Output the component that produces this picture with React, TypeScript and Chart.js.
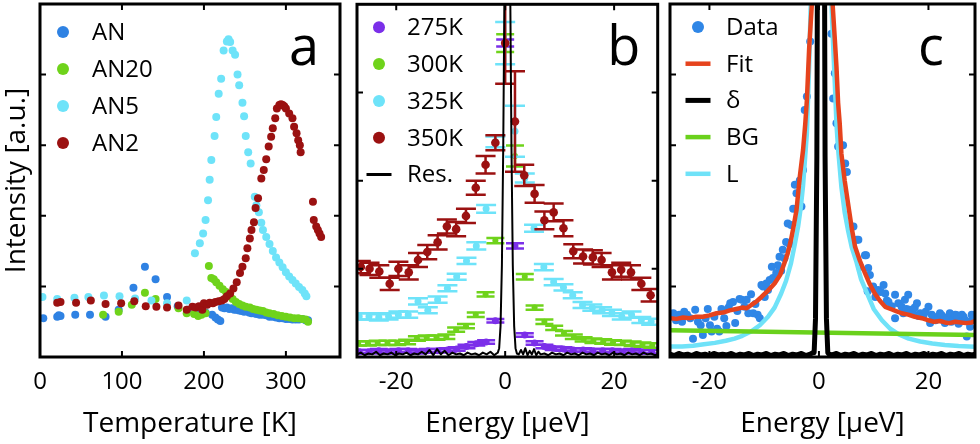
import React, { useEffect, useRef } from 'react';
import { Chart, registerables } from 'chart.js';

Chart.register(...registerables);

const FONT = '"Open Sans", "Noto Sans", "DejaVu Sans", sans-serif';

type P = [number, number];

// ---------- Panel a : intensity vs temperature ----------
const tempTicks = [0, 100, 200, 300];
const yTicksA = [0, 1, 2, 3, 4, 5];
const namesA = ['AN', 'AN20', 'AN5', 'AN2'];

const AN: P[] = [[4,0.55],[21,0.57],[23,0.59],[25,0.58],[43,0.6],[61,0.6],[80,0.57],[96,0.67],[114,0.98],[128,1.28],[141,1.1],[155,0.85],[168,0.72],[180,0.67],[192,0.64],[202,0.63],[210,0.6],[214,0.56],[217,0.53],[220,0.51],[222,0.7],[225,0.69],[228,0.7],[231,0.68],[234,0.69],[237,0.67],[240,0.67],[243,0.66],[246,0.65],[249,0.64],[252,0.65],[255,0.63],[258,0.62],[261,0.62],[264,0.61],[268,0.6],[272,0.6],[276,0.59],[280,0.57],[284,0.57],[288,0.56],[292,0.55],[296,0.55],[300,0.54],[304,0.54],[308,0.53],[312,0.53],[316,0.53],[320,0.54],[324,0.52],[327,0.52]];
const AN20: P[] = [[77,0.6],[96,0.64],[112,0.74],[128,0.91],[141,0.82],[169,0.69],[179,0.62],[188,0.61],[193,0.58],[197,0.6],[202,0.62],[206,1.29],[209,1.12],[212,1.1],[215,1.06],[219,1.01],[223,0.96],[227,0.92],[231,0.86],[235,0.82],[239,0.78],[243,0.75],[247,0.73],[251,0.71],[256,0.7],[260,0.68],[264,0.67],[268,0.66],[272,0.65],[276,0.63],[280,0.62],[285,0.61],[290,0.59],[295,0.58],[300,0.57],[305,0.56],[310,0.55],[315,0.55],[320,0.54],[324,0.53],[327,0.5]];
const AN5: P[] = [[3,0.85],[21,0.82],[42,0.84],[59,0.85],[78,0.87],[97,0.86],[116,0.83],[136,0.8],[155,0.76],[179,0.8],[189,1.47],[195,1.61],[199,1.75],[202,1.94],[205,2.22],[207,2.51],[209,2.79],[213,3.13],[215,3.4],[218,3.73],[221,3.94],[224,4.34],[228,4.47],[230,4.5],[232,4.46],[235,4.34],[238,4.28],[241,4.0],[243,3.85],[247,3.6],[249,3.41],[251,3.13],[254,2.9],[257,2.74],[262,2.27],[264,2.15],[267,2.05],[270,1.9],[272,1.8],[276,1.7],[280,1.6],[284,1.5],[288,1.41],[292,1.34],[296,1.27],[300,1.2],[304,1.14],[308,1.09],[312,1.04],[316,0.99],[320,0.95],[323,0.9],[325,0.86]];
const AN2: P[] = [[21,0.77],[25,0.78],[44,0.77],[62,0.8],[80,0.75],[99,0.76],[115,0.79],[129,0.72],[142,0.71],[155,0.7],[169,0.73],[179,0.67],[186,0.71],[190,0.7],[194,0.72],[198,0.67],[200,0.76],[204,0.74],[207,0.77],[211,0.76],[214,0.78],[218,0.79],[222,0.8],[225,0.82],[228,0.86],[232,0.9],[236,0.97],[240,1.06],[244,1.19],[247,1.28],[251,1.4],[253,1.54],[256,1.68],[258,1.8],[261,1.91],[263,2.11],[266,2.25],[270,2.53],[273,2.65],[276,2.8],[279,2.98],[282,3.12],[284,3.24],[287,3.38],[289,3.52],[292,3.57],[294,3.58],[296,3.57],[298,3.55],[300,3.52],[304,3.45],[308,3.38],[310,3.26],[313,3.17],[315,3.07],[317,3.0],[318,2.9],[333,2.2],[334,1.94],[337,1.85],[339,1.8],[341,1.75],[343,1.7]];

// ---------- Panel b : spectra at several temperatures ----------
const energyTicks = [-20, 0, 20];
const yTicksB = [0, 1, 2, 3, 4];
const namesB = ['275K', '300K', '325K', '350K', 'Res.'];

const p275: P[] = [[-26.8,0.06],[-25,0.06],[-23.2,0.07],[-21.4,0.06],[-19.6,0.07],[-17.8,0.07],[-16,0.06],[-14.2,0.07],[-12.4,0.07],[-10.6,0.08],[-8.9,0.09],[-7.1,0.12],[-5.3,0.15],[-3.5,0.17],[-1.8,0.41],[0,3.56],[1.8,1.26],[3.6,0.25],[5.4,0.16],[7.2,0.12],[8.9,0.1],[10.7,0.09],[12.5,0.08],[14.3,0.08],[16.1,0.07],[17.9,0.07],[19.7,0.07],[21.5,0.06],[23.3,0.07],[25.1,0.06],[26.9,0.06]];
const e275 = [0.02,0.02,0.02,0.02,0.02,0.02,0.02,0.02,0.02,0.02,0.02,0.02,0.02,0.02,0.02,0.04,0.03,0.02,0.02,0.02,0.02,0.02,0.02,0.02,0.02,0.02,0.02,0.02,0.02,0.02,0.02];
const p300: P[] = [[-27,0.155],[-25.2,0.155],[-23.4,0.16],[-21.6,0.16],[-19.8,0.16],[-18,0.17],[-16.2,0.21],[-14.4,0.22],[-12.6,0.22],[-10.8,0.23],[-9,0.31],[-7.2,0.35],[-5.4,0.48],[-3.6,0.71],[-1.8,1.32],[0,3.56],[1.8,2.28],[3.6,0.91],[5.4,0.56],[7.2,0.4],[9,0.33],[10.8,0.27],[12.6,0.23],[14.4,0.2],[16.2,0.185],[18,0.175],[19.8,0.165],[21.6,0.16],[23.4,0.15],[25.2,0.14],[27,0.13]];
const e300 = [0.025,0.025,0.025,0.025,0.025,0.025,0.025,0.025,0.025,0.025,0.025,0.025,0.025,0.025,0.03,0.1,0.12,0.03,0.025,0.025,0.025,0.025,0.025,0.025,0.025,0.025,0.025,0.025,0.025,0.025,0.025];
const p325: P[] = [[-26.8,0.46],[-25,0.46],[-23.2,0.45],[-21.4,0.46],[-19.6,0.48],[-17.8,0.48],[-16,0.63],[-14.2,0.53],[-12.4,0.65],[-10.6,0.78],[-8.9,0.91],[-7.1,1.09],[-5.3,1.26],[-3.5,1.68],[-1.8,2.44],[0,3.56],[1.8,2.56],[3.6,2.03],[5.3,1.46],[7.1,1.02],[8.9,0.85],[10.7,0.79],[12.4,0.7],[14.2,0.59],[16,0.56],[17.8,0.53],[19.6,0.5],[21.4,0.46],[23.2,0.48],[25,0.42],[26.8,0.4]];
const e325 = [0.035,0.035,0.035,0.035,0.035,0.035,0.035,0.035,0.035,0.035,0.035,0.035,0.04,0.045,0.06,0.24,0.29,0.05,0.04,0.035,0.035,0.035,0.035,0.035,0.035,0.035,0.035,0.035,0.035,0.035,0.035];
const p350: P[] = [[-26.5,1.02],[-24.9,1.0],[-23.1,0.97],[-21.2,0.83],[-19.6,1.0],[-17.7,0.96],[-16,1.1],[-14.3,1.19],[-12.4,1.3],[-10.7,1.48],[-9,1.45],[-7.2,1.6],[-5.4,1.92],[-3.6,2.18],[-1.8,2.43],[0,3.56],[1.8,2.67],[3.5,2.06],[5.4,1.85],[7.2,1.55],[8.9,1.64],[10.7,1.46],[12.5,1.2],[14.3,1.14],[16.1,1.13],[17.7,1.1],[19.6,0.96],[21.3,0.99],[23.1,0.96],[25,0.83],[26.7,0.7]];
const e350 = [0.07,0.07,0.07,0.07,0.08,0.08,0.08,0.08,0.08,0.08,0.08,0.08,0.08,0.1,0.085,0.46,0.57,0.12,0.1,0.1,0.1,0.09,0.08,0.08,0.08,0.08,0.08,0.08,0.08,0.07,0.07];
const resB: P[] = [[-27.2,0.03],[-26.5,0.05],[-25.8,0.02],[-25.1,0.04],[-24.4,0.03],[-23.7,0.06],[-23,0.02],[-22.3,0.04],[-21.6,0.03],[-20.9,0.05],[-20.2,0.02],[-19.5,0.04],[-18.8,0.03],[-18.1,0.05],[-17.4,0.02],[-16.7,0.04],[-16,0.03],[-15.3,0.06],[-14.6,0.03],[-13.9,0.08],[-13.2,0.02],[-12.5,0.09],[-11.8,0.03],[-11.1,0.07],[-10.4,0.02],[-9.7,0.05],[-9,0.03],[-8.3,0.04],[-7.6,0.02],[-6.9,0.05],[-6.2,0.03],[-5.5,0.04],[-4.8,0.02],[-4.1,0.05],[-3.4,0.03],[-2.7,0.06],[-2,0.02],[-1.6,0.04],[-1.35,0.05],[-1.1,0.1],[-0.85,0.35],[-0.6,1.04],[-0.35,2.41],[-0.1,4.39],[0.15,6.3],[0.4,7.1],[0.65,6.3],[0.9,4.39],[1.15,2.41],[1.4,1.04],[1.65,0.35],[1.9,0.1],[2.15,0.04],[2.5,0.03],[2.9,0.08],[3.3,0.03],[3.7,0.1],[4.1,0.02],[4.5,0.07],[4.9,0.03],[5.3,0.09],[5.7,0.02],[6.1,0.06],[6.5,0.03],[7.2,0.04],[7.9,0.02],[8.6,0.05],[9.3,0.03],[10,0.04],[10.7,0.02],[11.4,0.05],[12.1,0.03],[12.8,0.04],[13.5,0.02],[14.2,0.05],[14.9,0.03],[15.6,0.04],[16.3,0.02],[17,0.05],[17.7,0.03],[18.4,0.04],[19.1,0.02],[19.8,0.05],[20.5,0.03],[21.2,0.04],[21.9,0.02],[22.6,0.05],[23.3,0.03],[24,0.04],[24.7,0.02],[25.4,0.05],[26.1,0.03],[26.8,0.04],[27.5,0.02],[28,0.03]];

// ---------- Panel c : fit decomposition ----------
const yTicksC = [0, 1, 2, 3, 4, 5];
const namesC = ['Data', 'Fit', 'δ', 'BG', 'L'];

const dataC: P[] = [[-27.2,0.59],[-26.6,0.62],[-26.1,0.52],[-25.5,0.6],[-25,0.5],[-24.6,0.64],[-24.1,0.6],[-23.5,0.55],[-23,0.26],[-22.6,0.67],[-22.1,0.5],[-21.6,0.45],[-21.2,0.31],[-20.7,0.55],[-20.3,0.68],[-19.9,0.45],[-19.6,0.36],[-19.1,0.57],[-18.6,0.4],[-18.2,0.36],[-17.8,0.68],[-17.3,0.55],[-16.9,0.44],[-16.5,0.7],[-16.2,0.76],[-15.7,0.78],[-15.3,0.48],[-14.9,0.65],[-14.5,0.82],[-14.1,0.81],[-13.6,0.71],[-13.2,0.81],[-12.9,0.62],[-12.4,0.89],[-12,0.62],[-11.6,0.75],[-11.2,0.6],[-10.8,0.55],[-10.5,1.02],[-10.2,1.0],[-9.9,0.85],[-9.6,1.04],[-9.3,0.95],[-9,1.09],[-8.6,1.28],[-8.4,1.12],[-7.8,1.19],[-7.5,1.3],[-7.2,1.42],[-6.9,1.22],[-6.6,1.52],[-6.3,1.4],[-6,1.63],[-5.7,1.89],[-5.4,1.6],[-5.1,1.87],[-4.7,2.1],[-4.4,2.44],[-4.1,2.32],[-3.5,2.5],[-3.2,2.13],[-2.9,2.65],[-2.6,3.5],[-2.2,3.69],[-1.6,4.47],[2.3,4.58],[2.6,3.66],[2.9,4.02],[3.2,3.31],[3.5,2.98],[4.4,3.0],[4.8,2.74],[5.1,2.62],[5.7,1.85],[6.3,1.85],[6.9,1.66],[7.2,1.66],[7.5,1.28],[8.4,1.44],[8.6,1.44],[8.9,0.93],[9,1.26],[9.3,1.16],[9.9,1.0],[10.3,0.85],[10.8,0.95],[11.3,0.92],[11.8,1.02],[12.1,0.9],[12.4,0.8],[12.7,0.78],[13.3,0.72],[13.9,0.88],[13.9,0.55],[14.5,0.76],[15.1,0.71],[15.4,0.62],[15.7,0.81],[16,0.68],[16.3,0.88],[16.6,0.67],[17.2,0.62],[17.5,0.7],[17.9,0.76],[18.2,0.58],[18.5,0.62],[19.1,0.59],[19.5,0.64],[20,0.71],[20.3,0.48],[20.6,0.6],[20.9,0.57],[21.3,0.52],[21.8,0.55],[22.1,0.62],[22.4,0.59],[22.7,0.52],[23,0.48],[23.4,0.56],[23.9,0.62],[24.2,0.5],[24.6,0.55],[24.9,0.6],[25.2,0.59],[25.5,0.47],[25.8,0.5],[26.1,0.6],[26.4,0.57],[26.7,0.52],[27,0.29],[27.3,0.5],[27.6,0.43],[27.9,0.6],[28.2,0.55]];
const fitC: P[] = [[-27.2,0.55],[-26,0.54],[-24.8,0.56],[-23.6,0.55],[-22.4,0.57],[-21.2,0.57],[-20,0.59],[-18.7,0.62],[-17.5,0.63],[-16.3,0.66],[-15.1,0.68],[-14,0.7],[-13.2,0.69],[-12.3,0.74],[-11.5,0.78],[-10.5,0.85],[-9.3,0.94],[-8.1,1.04],[-7.1,1.16],[-6.3,1.33],[-5.7,1.47],[-5.1,1.66],[-4.6,1.86],[-4.1,2.08],[-3.5,2.55],[-2.9,2.93],[-2.5,3.3],[-2.2,3.64],[-1.8,4.35],[-1.3,4.99],[-1,6],[0.5,20],[2.1,6],[2.5,4.99],[2.9,4.5],[3.2,4.11],[3.5,3.6],[3.8,3.3],[4.1,2.88],[4.7,2.5],[5.4,2.13],[6,1.82],[6.6,1.56],[7.5,1.36],[8.4,1.19],[9.3,1.03],[10.2,0.9],[11.1,0.8],[12.1,0.71],[13.1,0.68],[14.1,0.65],[15.1,0.62],[16.3,0.6],[17.5,0.57],[18.8,0.55],[20,0.52],[21,0.5],[22.1,0.51],[23,0.49],[23.8,0.48],[24.9,0.5],[25.9,0.49],[26.9,0.48],[27.9,0.49],[28.5,0.51]];
const deltaC: P[] = [[-27.2,0.04],[-26.4,0.02],[-25.6,0.05],[-24.8,0.03],[-24,0.04],[-23.2,0.02],[-22.4,0.05],[-21.6,0.03],[-20.8,0.04],[-20,0.02],[-19.2,0.05],[-18.4,0.03],[-17.6,0.04],[-16.8,0.03],[-16,0.05],[-15.2,0.02],[-14.4,0.04],[-13.6,0.03],[-12.8,0.05],[-12,0.02],[-11.2,0.04],[-10.4,0.03],[-9.6,0.05],[-8.8,0.02],[-8,0.04],[-7.2,0.03],[-6.4,0.05],[-5.6,0.02],[-4.8,0.04],[-4,0.03],[-3.2,0.05],[-2.4,0.02],[-1.6,0.04],[-1.13,0.06],[-0.88,0.06],[-0.63,0.54],[-0.38,2.84],[-0.13,9.3],[0.12,18.9],[0.37,24],[0.62,18.9],[0.87,9.3],[1.12,2.84],[1.37,0.54],[1.62,0.06],[1.87,0.04],[2.4,0.03],[3.2,0.05],[4,0.02],[4.8,0.04],[5.6,0.03],[6.4,0.05],[7.2,0.02],[8,0.04],[8.8,0.03],[9.6,0.05],[10.4,0.02],[11.2,0.04],[12,0.03],[12.8,0.05],[13.6,0.02],[14.4,0.04],[15.2,0.03],[16,0.05],[16.8,0.02],[17.6,0.04],[18.4,0.03],[19.2,0.05],[20,0.02],[20.8,0.04],[21.6,0.03],[22.4,0.05],[23.2,0.02],[24,0.04],[24.8,0.03],[25.6,0.05],[26.4,0.02],[27.2,0.04],[28,0.03],[28.5,0.04]];
const bgC: P[] = [[-27.2,0.38],[28.5,0.31]];
const lorC: P[] = [[-27.2,0.15],[-25,0.15],[-23,0.16],[-21,0.18],[-19,0.2],[-17,0.23],[-15.4,0.26],[-14,0.3],[-12.4,0.36],[-10.8,0.45],[-9.3,0.57],[-8.1,0.7],[-6.9,0.9],[-6,1.08],[-5.1,1.33],[-4.4,1.6],[-3.8,1.85],[-3.3,2.13],[-2.9,2.43],[-2.5,2.85],[-2.2,3.17],[-1.8,4.11],[-1.5,4.99],[-1.2,6],[0.5,15],[2,6],[2.3,4.99],[2.6,4.4],[2.9,3.88],[3.2,3.3],[3.5,2.95],[4.1,2.41],[4.7,2.05],[5.3,1.8],[6,1.55],[6.8,1.36],[7.7,1.1],[8.8,0.9],[10,0.68],[11.5,0.52],[13,0.4],[14.6,0.32],[16.4,0.26],[18.5,0.22],[20.7,0.19],[23,0.17],[25.5,0.155],[28.5,0.145]];

// ---------- helpers ----------
const pts = (a: P[]) => a.map(([x, y]) => ({ x, y }));

const errorBarPlugin = {
  id: 'errorBars',
  beforeDatasetDraw(chart: any, args: any) {
    const ds: any = chart.data.datasets[args.index];
    if (!ds.errors) return;
    const { ctx, chartArea: a } = chart;
    const xs = chart.scales.x;
    const ys = chart.scales.y;
    ctx.save();
    ctx.beginPath();
    ctx.rect(a.left, a.top, a.right - a.left, a.bottom - a.top);
    ctx.clip();
    ctx.strokeStyle = ds.borderColor;
    ctx.lineWidth = ds.errWidth;
    ds.data.forEach((p: any, i: number) => {
      const e = ds.errors[i];
      const x = xs.getPixelForValue(p.x);
      const y1 = ys.getPixelForValue(p.y - e);
      const y2 = ys.getPixelForValue(p.y + e);
      const c = ds.capHalf;
      ctx.beginPath();
      ctx.moveTo(x, y1); ctx.lineTo(x, y2);
      ctx.moveTo(x - c, y1); ctx.lineTo(x + c, y1);
      ctx.moveTo(x - c, y2); ctx.lineTo(x + c, y2);
      ctx.stroke();
    });
    ctx.restore();
  },
};

const panelPlugin = {
  id: 'panel',
  afterDraw(chart: any) {
    const o = chart.options.plugins.panel;
    const { ctx, chartArea: a, scales } = chart;
    ctx.save();
    ctx.strokeStyle = '#000';
    ctx.lineWidth = 2;
    const tl = 6;
    scales.y.ticks.forEach((t: any) => {
      const y = scales.y.getPixelForValue(t.value);
      if (y < a.top + 2 || y > a.bottom - 2) return;
      ctx.beginPath();
      ctx.moveTo(a.left, y); ctx.lineTo(a.left + tl, y);
      ctx.moveTo(a.right, y); ctx.lineTo(a.right - tl, y);
      ctx.stroke();
    });
    scales.x.ticks.forEach((t: any) => {
      const x = scales.x.getPixelForValue(t.value);
      if (x < a.left + 2 || x > a.right - 2) return;
      ctx.beginPath();
      ctx.moveTo(x, a.top); ctx.lineTo(x, a.top + tl);
      ctx.moveTo(x, a.bottom); ctx.lineTo(x, a.bottom - tl);
      ctx.stroke();
    });
    ctx.lineWidth = 3;
    ctx.strokeRect(a.left, a.top, a.right - a.left, a.bottom - a.top);

    // panel letter
    ctx.fillStyle = '#000';
    ctx.font = `54px ${FONT}`;
    ctx.textAlign = 'center';
    ctx.textBaseline = 'alphabetic';
    ctx.fillText(o.letter, a.right + o.letterDx, a.top + o.letterDy);

    // legend
    const L = o.legend;
    ctx.font = `24px ${FONT}`;
    ctx.textAlign = 'left';
    ctx.textBaseline = 'middle';
    L.items.forEach((it: any, i: number) => {
      const y = a.top + L.y0 + i * L.dy;
      const sx = a.left + L.sx;
      if (it.kind === 'dot') {
        ctx.fillStyle = it.color;
        ctx.beginPath();
        ctx.arc(sx, y, 6, 0, Math.PI * 2);
        ctx.fill();
      } else {
        ctx.strokeStyle = it.color;
        ctx.lineWidth = it.width;
        ctx.beginPath();
        ctx.moveTo(sx - 12.5, y); ctx.lineTo(sx + 12.5, y);
        ctx.stroke();
      }
      ctx.fillStyle = '#000';
      ctx.fillText(it.text, a.left + L.tx, y + 1);
    });
    ctx.restore();
  },
};

function makeOptions(p: any) {
  return {
    responsive: false,
    animation: false,
    events: [],
    layout: { padding: { top: 4, right: p.padRight, left: 0, bottom: 0 } },
    plugins: { legend: { display: false }, tooltip: { enabled: false }, panel: p.panel },
    scales: {
      x: {
        type: 'linear',
        position: 'bottom',
        min: p.xMin,
        max: p.xMax,
        afterFit: (s: any) => { s.height = 87; },
        afterBuildTicks: (s: any) => { s.ticks = p.xTicks.map((v: number) => ({ value: v })); },
        grid: { display: false, drawTicks: false },
        border: { display: false },
        ticks: { color: '#000', font: { family: FONT, size: 24 }, padding: 11, maxRotation: 0, autoSkip: false, callback: (v: number) => String(v) },
        title: { display: true, text: p.xTitle, color: '#000', font: { family: FONT, size: 28 }, padding: { top: 0, bottom: 3 } },
      },
      y: {
        type: 'linear',
        position: 'left',
        min: 0,
        max: p.yTicks[p.yTicks.length - 1],
        afterFit: (s: any) => { s.width = p.yWidth; },
        afterBuildTicks: (s: any) => { s.ticks = p.yTicks.map((v: number) => ({ value: v })); },
        grid: { display: false, drawTicks: false },
        border: { display: false },
        ticks: { display: false },
        title: p.yTitle
          ? { display: true, text: p.yTitle, color: '#000', font: { family: FONT, size: 28 }, padding: { top: 0, bottom: 0 } }
          : { display: false },
      },
    },
  };
}

const dotSet = (label: string, data: P[], color: string, r: number, order: number, extra: any = {}) => ({
  label, data: pts(data), backgroundColor: color, borderColor: color,
  pointBackgroundColor: color, pointBorderWidth: 0, pointRadius: r, showLine: false, order, ...extra,
});
const lineSet = (label: string, data: P[], color: string, w: number, order: number) => ({
  label, data: pts(data), borderColor: color, backgroundColor: color, borderWidth: w,
  pointRadius: 0, showLine: true, tension: 0, order, borderJoinStyle: 'round',
});

const C = {
  an: '#2f82e3', an20: '#6fd31b', an5: '#6ee3f9', an2: '#9b1111',
  k275: '#7b2fe9', k300: '#6fd31b', k325: '#6ee3f9', k350: '#9b1111',
  data: '#2f86e6', fit: '#e6431d', delta: '#000000', bg: '#6ad11c', lor: '#6fe2f8',
};

const configA = () => ({
  type: 'scatter',
  data: {
    datasets: [
      dotSet(namesA[0], AN, C.an, 4, 3),
      dotSet(namesA[1], AN20, C.an20, 4, 2),
      dotSet(namesA[2], AN5, C.an5, 4, 1),
      dotSet(namesA[3], AN2, C.an2, 4, 0),
    ],
  },
  options: makeOptions({
    padRight: 8, yWidth: 40, xMin: 0, xMax: 366, xTicks: tempTicks, yTicks: yTicksA,
    xTitle: 'Temperature [K]', yTitle: 'Intensity [a.u.]',
    panel: {
      letter: 'a', letterDx: -36, letterDy: 61,
      legend: {
        sx: 23, tx: 52, y0: 28, dy: 37,
        items: [
          { kind: 'dot', color: C.an, text: namesA[0] },
          { kind: 'dot', color: C.an20, text: namesA[1] },
          { kind: 'dot', color: C.an5, text: namesA[2] },
          { kind: 'dot', color: C.an2, text: namesA[3] },
        ],
      },
    },
  }),
  plugins: [panelPlugin],
});

const configB = () => ({
  type: 'scatter',
  data: {
    datasets: [
      dotSet(namesB[0], p275, C.k275, 3.5, 4, { errors: e275, capHalf: 9, errWidth: 2.5 }),
      dotSet(namesB[1], p300, C.k300, 3, 3, { errors: e300, capHalf: 9, errWidth: 2.5 }),
      dotSet(namesB[2], p325, C.k325, 3.5, 2, { errors: e325, capHalf: 10, errWidth: 2.5 }),
      dotSet(namesB[3], p350, C.k350, 4.3, 1, { errors: e350, capHalf: 10, errWidth: 2.5 }),
      lineSet(namesB[4], resB, '#000000', 2, 0),
    ],
  },
  options: makeOptions({
    padRight: 4, yWidth: 9, xMin: -27.2, xMax: 28, xTicks: energyTicks, yTicks: yTicksB,
    xTitle: 'Energy [µeV]', yTitle: '',
    panel: {
      letter: 'b', letterDx: -34, letterDy: 61,
      legend: {
        sx: 22, tx: 50, y0: 23, dy: 36.8,
        items: [
          { kind: 'dot', color: C.k275, text: namesB[0] },
          { kind: 'dot', color: C.k300, text: namesB[1] },
          { kind: 'dot', color: C.k325, text: namesB[2] },
          { kind: 'dot', color: C.k350, text: namesB[3] },
          { kind: 'line', color: '#000', width: 3, text: namesB[4] },
        ],
      },
    },
  }),
  plugins: [panelPlugin, errorBarPlugin],
});

const configC = () => ({
  type: 'scatter',
  data: {
    datasets: [
      dotSet(namesC[0], dataC, C.data, 4, 4),
      lineSet(namesC[1], fitC, C.fit, 4.5, 1),
      lineSet(namesC[2], deltaC, C.delta, 5, 0),
      lineSet(namesC[3], bgC, C.bg, 4.5, 2),
      lineSet(namesC[4], lorC, C.lor, 4.5, 3),
    ],
  },
  options: makeOptions({
    padRight: 5, yWidth: 8, xMin: -27.2, xMax: 28.5, xTicks: energyTicks, yTicks: yTicksC,
    xTitle: 'Energy [µeV]', yTitle: '',
    panel: {
      letter: 'c', letterDx: -44, letterDy: 61,
      legend: {
        sx: 28, tx: 56, y0: 23, dy: 36.7,
        items: [
          { kind: 'dot', color: C.data, text: namesC[0] },
          { kind: 'line', color: C.fit, width: 4.5, text: namesC[1] },
          { kind: 'line', color: C.delta, width: 5, text: namesC[2] },
          { kind: 'line', color: C.bg, width: 4.5, text: namesC[3] },
          { kind: 'line', color: C.lor, width: 4.5, text: namesC[4] },
        ],
      },
    },
  }),
  plugins: [panelPlugin],
});

function Panel({ left, width, config }: { left: number; width: number; config: () => any }) {
  const ref = useRef<HTMLCanvasElement>(null);
  useEffect(() => {
    const chart = new Chart(ref.current as HTMLCanvasElement, config());
    return () => chart.destroy();
  }, []);
  return (
    <canvas
      ref={ref}
      width={width}
      height={444}
      style={{ position: 'absolute', left, top: 0, width, height: 444 }}
    />
  );
}

export default function App() {
  return (
    <div style={{ position: 'absolute', left: 0, top: 0, width: 980, height: 444, background: '#fff', overflow: 'hidden' }}>
      <Panel left={0} width={348} config={configA} />
      <Panel left={348} width={314} config={configB} />
      <Panel left={662} width={318} config={configC} />
    </div>
  );
}
